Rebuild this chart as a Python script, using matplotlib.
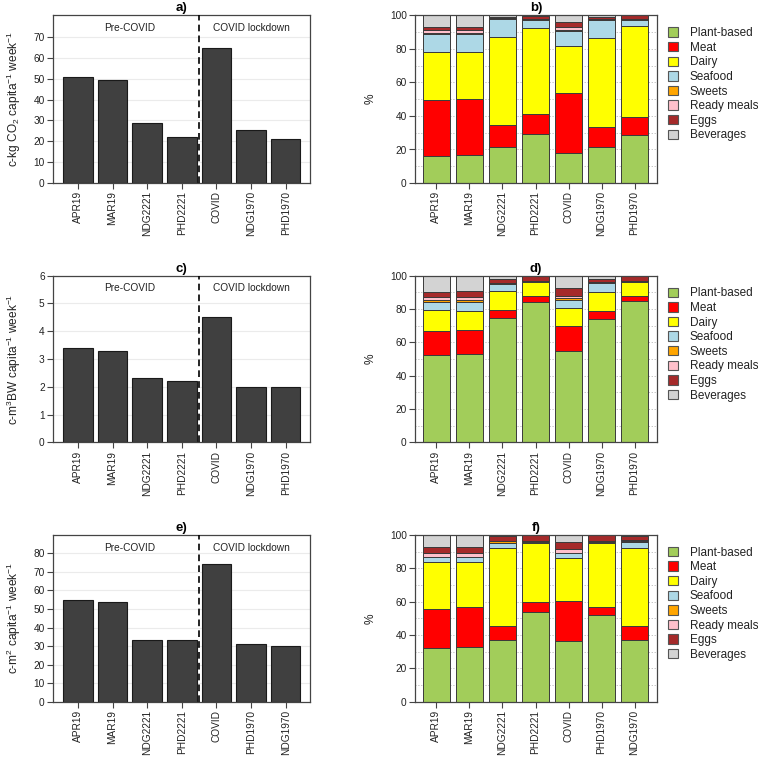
import matplotlib
matplotlib.use("Agg")
import matplotlib.pyplot as plt
import matplotlib.patches as mpatches
import numpy as np

plt.rcParams['font.family'] = ['Liberation Sans', 'DejaVu Sans']
plt.rcParams['mathtext.fontset'] = 'custom'
plt.rcParams['mathtext.rm'] = 'Liberation Sans'
plt.rcParams['mathtext.it'] = 'Liberation Sans:italic'

# ---------------- data ----------------
groups_ac = ["APR19", "MAR19", "NDG2221", "PHD2221", "COVID", "NDG1970", "PHD1970"]
groups_e = ["APR19", "MAR19", "NDG2221", "PHD2221", "COVID", "PHD1970", "NDG1970"]

co2_total = [50.7, 49.6, 28.6, 22.0, 64.9, 25.5, 21.3]
water_total = [3.4, 3.3, 2.3, 2.2, 4.5, 2.0, 2.0]
land_total = [54.9, 54.0, 33.1, 33.1, 74.1, 31.1, 30.0]

categories = ["Plant-based", "Meat", "Dairy", "Seafood", "Sweets",
              "Ready meals", "Eggs", "Beverages"]
cat_colors = ["#A2CD5A", "#FF0000", "#FFFF00", "#ADD8E6", "#FFA500",
              "#FFC0CB", "#A52A2A", "#D3D3D3"]

# shares (%) per category, one value per group (panel b: CO2)
b_plant = [16.4, 17.0, 21.4, 29.4, 18.0, 21.4, 28.4]
b_meat = [33.4, 33.2, 13.0, 11.6, 35.6, 12.0, 10.8]
b_dairy = [28.4, 28.0, 52.6, 51.4, 28.0, 53.0, 54.4]
b_seafood = [10.7, 10.8, 11.0, 5.2, 9.4, 11.2, 4.0]
b_sweets = [0.5, 0.5, 0.2, 0.1, 0.4, 0.2, 0.1]
b_ready = [2.1, 2.1, 0.2, 0.1, 2.0, 0.2, 0.1]
b_eggs = [1.6, 1.6, 1.0, 1.8, 3.0, 1.2, 2.2]
b_bev = [6.9, 6.8, 0.6, 0.4, 3.6, 0.8, 0.0]

# panel d: water
d_plant = [52.2, 52.8, 74.4, 84.4, 54.8, 74.0, 85.0]
d_meat = [14.6, 14.6, 4.8, 3.4, 15.0, 4.6, 3.0]
d_dairy = [12.4, 11.6, 11.6, 8.2, 10.6, 11.6, 8.0]
d_seafood = [5.2, 5.4, 4.4, 0.8, 5.0, 5.2, 0.6]
d_sweets = [0.8, 0.8, 0.3, 0.1, 1.4, 0.3, 0.1]
d_ready = [1.8, 1.8, 0.3, 0.1, 1.0, 0.3, 0.1]
d_eggs = [3.4, 3.6, 2.0, 2.6, 5.0, 2.0, 2.8]
d_bev = [9.6, 9.4, 2.2, 0.4, 7.2, 2.0, 0.4]

# panel f: land (group order as groups_e)
f_plant = [32.4, 33.0, 37.0, 53.8, 36.6, 51.8, 37.0]
f_meat = [23.4, 23.6, 8.6, 5.8, 23.8, 4.8, 8.6]
f_dairy = [27.8, 27.0, 46.6, 35.6, 25.6, 38.8, 46.8]
f_seafood = [3.0, 3.0, 2.8, 0.6, 3.0, 0.6, 3.2]
f_sweets = [0.4, 0.4, 1.2, 0.2, 0.4, 0.2, 1.0]
f_ready = [2.0, 2.0, 0.2, 0.2, 2.0, 0.2, 0.2]
f_eggs = [4.0, 4.0, 3.0, 3.6, 4.4, 3.4, 2.6]
f_bev = [7.0, 7.0, 0.6, 0.2, 4.2, 0.2, 0.6]

shares_b = [b_plant, b_meat, b_dairy, b_seafood, b_sweets, b_ready, b_eggs, b_bev]
shares_d = [d_plant, d_meat, d_dairy, d_seafood, d_sweets, d_ready, d_eggs, d_bev]
shares_f = [f_plant, f_meat, f_dairy, f_seafood, f_sweets, f_ready, f_eggs, f_bev]

# ---------------- figure ----------------
W, H = 758, 759
fig = plt.figure(figsize=(W / 100, H / 100), dpi=100)

rows = [(15.5, 183.0), (275.7, 442.3), (535.0, 701.7)]
left_x = (53, 310)
right_x = (415, 657)


def make_ax(xr, yr):
    return fig.add_axes([xr[0] / W, 1 - yr[1] / H, (xr[1] - xr[0]) / W, (yr[1] - yr[0]) / H])


SP = '#444444'
TXT = '#222222'


def style(ax):
    for s in ax.spines.values():
        s.set_color(SP)
        s.set_linewidth(0.9)
    ax.tick_params(direction='out', length=4, width=0.8, color=SP,
                   labelcolor=TXT, labelsize=7.3, pad=2)
    ax.tick_params(axis='x', labelrotation=90)


def total_panel(ax, labels, vals, ylim, yticks, ylabel, title):
    x = np.arange(len(labels))
    for t in yticks[1:]:
        ax.axhline(t, color='#ebebeb', lw=0.8, zorder=0)
    ax.bar(x, vals, width=0.85, color='#404040', edgecolor='#1a1a1a',
           linewidth=0.8, zorder=2)
    ax.set_xlim(-0.72, 6.7)
    ax.set_ylim(*ylim)
    ax.set_yticks(yticks)
    ax.set_xticks(x)
    ax.set_xticklabels(labels)
    ax.axvline(3.5, color='black', lw=1.2, linestyle=(0, (4, 2.5)), zorder=3)
    ax.text(1.5, 0.925, "Pre-COVID", transform=ax.get_xaxis_transform(),
            ha='center', va='center', fontsize=7.3, color=TXT)
    ax.text(5.0, 0.925, "COVID lockdown", transform=ax.get_xaxis_transform(),
            ha='center', va='center', fontsize=7.3, color=TXT)
    ax.set_ylabel(ylabel, fontsize=8.6, color=TXT)
    ax.yaxis.set_label_coords(-0.118, 0.5)
    ax.set_title(title, fontsize=9.5, fontweight='bold', pad=3)
    style(ax)


def share_panel(ax, labels, shares, title):
    x = np.arange(len(labels))
    for t in range(10, 100, 10):
        ax.axhline(t, color='#b0b0b0', lw=0.7, linestyle=(0, (1, 2)), zorder=0)
    bottom = np.zeros(len(labels))
    handles = []
    for cat, col, vals in zip(categories, cat_colors, shares):
        vals = np.array(vals)
        ax.bar(x, vals, bottom=bottom, width=0.82, color=col,
               edgecolor='#3a3a3a', linewidth=0.7, zorder=2)
        bottom += vals
        handles.append(mpatches.Patch(facecolor=col, edgecolor='#555555',
                                      linewidth=0.8, label=cat))
    ax.set_xlim(-0.65, 6.68)
    ax.set_ylim(0, 100)
    ax.set_yticks([0, 20, 40, 60, 80, 100])
    ax.set_xticks(x)
    ax.set_xticklabels(labels)
    ax.set_ylabel("%", fontsize=8.6, color=TXT)
    ax.yaxis.set_label_coords(-0.157, 0.5)
    ax.set_title(title, fontsize=9.5, fontweight='bold', pad=3)
    style(ax)
    ax.legend(handles=handles, loc='upper left', bbox_to_anchor=(1.045, 0.93),
              frameon=False, fontsize=8.5, handlelength=0.85, handleheight=0.85,
              handletextpad=1.0, labelspacing=0.22, borderaxespad=0, borderpad=0,
              labelcolor=TXT)


ax_a = make_ax(left_x, rows[0])
total_panel(ax_a, groups_ac, co2_total, (0, 80.4), list(range(0, 80, 10)),
            r"c-kg CO$_2$ capita$^{-1}$ week$^{-1}$", "a)")
ax_b = make_ax(right_x, rows[0])
share_panel(ax_b, groups_ac, shares_b, "b)")

ax_c = make_ax(left_x, rows[1])
total_panel(ax_c, groups_ac, water_total, (0, 6), list(range(0, 7)),
            r"c-m$^3$BW capita$^{-1}$ week$^{-1}$", "c)")
ax_d = make_ax(right_x, rows[1])
share_panel(ax_d, groups_ac, shares_d, "d)")

ax_e = make_ax(left_x, rows[2])
total_panel(ax_e, groups_e, land_total, (0, 89.9), list(range(0, 90, 10)),
            r"c-m$^2$ capita$^{-1}$ week$^{-1}$", "e)")
ax_f = make_ax(right_x, rows[2])
share_panel(ax_f, groups_e, shares_f, "f)")

fig.savefig("out.png", dpi=100, facecolor='white')
